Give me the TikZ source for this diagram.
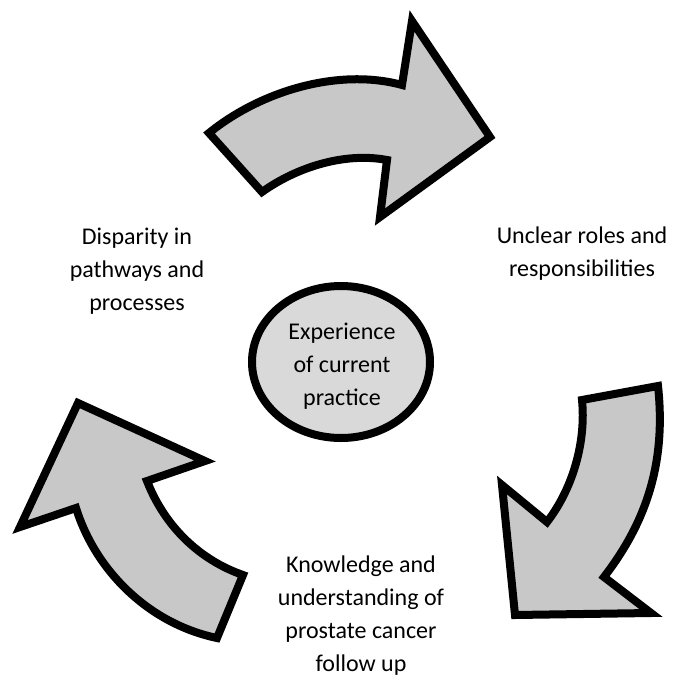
\documentclass[tikz,border=0pt]{standalone}
\usepackage{fontspec}
\setmainfont{Carlito}
\usetikzlibrary{shapes.geometric}
\definecolor{arrowgray}{HTML}{C8C8C8}
\definecolor{hubgray}{HTML}{D9D9D9}
\tikzset{
  bigarrow/.style={draw=black, fill=arrowgray, line width=8pt, line join=miter},
  label/.style={font=\fontsize{24}{33}\selectfont, align=center, inner sep=0pt},
  hub/.style={ellipse, draw=black, fill=hubgray, line width=8pt, minimum width=178pt, minimum height=152pt, inner sep=0pt}
}
\begin{document}
\begin{tikzpicture}[x=1pt,y=-1pt]
\useasboundingbox (0,0) rectangle (673,680);
% top arrow
\draw[bigarrow] (209,133) .. controls (262,90) and (340,68) .. (402,85)
  -- (412,21) -- (490,137) -- (380,217) -- (387,160)
  .. controls (345,152) and (297,167) .. (262,192) -- cycle;
% right arrow
\draw[bigarrow] (582,400) -- (658,386)
  .. controls (666,460) and (648,520) .. (604,577)
  -- (651,613) -- (515,615) -- (502,485) -- (547,522)
  .. controls (574,487) and (586,440) .. (582,400) -- cycle;
% left arrow
\draw[bigarrow] (78,403) -- (205,461) -- (147,481)
  .. controls (165,527) and (200,560) .. (243,575)
  -- (217,638)
  .. controls (150,624) and (96,572) .. (76,508)
  -- (20,527) -- cycle;
% centre
\node[hub] (hub) at (341,362) {};
\node[label] (hubtext) at (342,366) {Experience\\of current\\practice};
% labels
\node[label] (disparity) at (137,271) {Disparity in\\pathways and\\processes};
\node[label] (unclear) at (582,254) {Unclear roles and\\responsibilities};
\node[label] (knowledge) at (361,616) {Knowledge and\\understanding of\\prostate cancer\\follow up};
\end{tikzpicture}
\end{document}
